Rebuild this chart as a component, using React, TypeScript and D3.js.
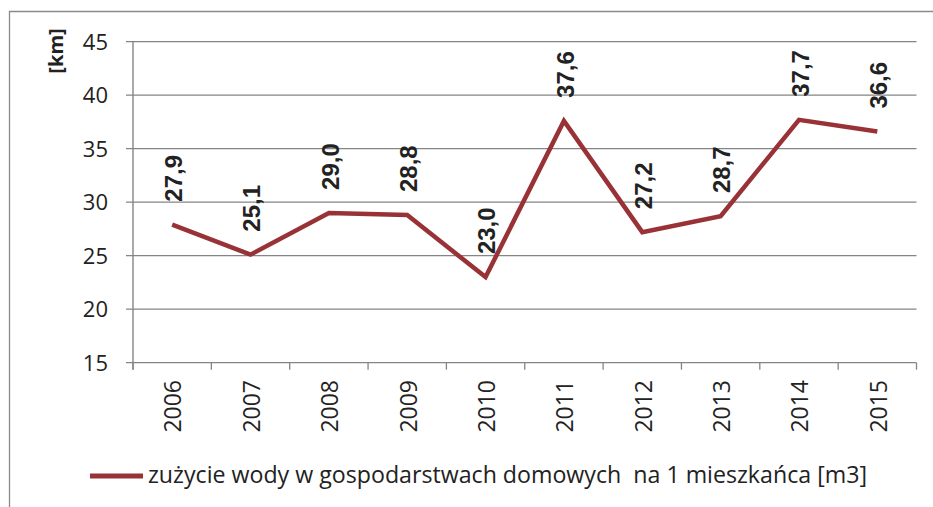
import React from "react";
import * as d3 from "d3";

const years = ["2006", "2007", "2008", "2009", "2010", "2011", "2012", "2013", "2014", "2015"];
const values = [27.9, 25.1, 29.0, 28.8, 23.0, 37.6, 27.2, 28.7, 37.7, 36.6];
const yTicks = [15, 20, 25, 30, 35, 40, 45];
const seriesName = "zużycie wody w gospodarstwach domowych  na 1 mieszkańca [m3]";
const yAxisTitle = "[km]";

const W = 933;
const H = 507;
const plotLeft = 133;
const plotRight = 916.5;
const plotTop = 41.7;
const plotBottom = 362.7;
const lineColor = "#993236";
const gridColor = "#858585";
const font = "'Open Sans', Lato, sans-serif";

export default function App() {
  const x = d3.scaleBand<string>().domain(years).range([plotLeft, plotRight]).padding(0);
  const y = d3.scaleLinear().domain([15, 45]).range([plotBottom, plotTop]);
  const cx = (yr: string) => (x(yr) as number) + x.bandwidth() / 2;
  const line = d3
    .line<number>()
    .x((_, i) => cx(years[i]))
    .y((v) => y(v));
  const fmt = (v: number) => v.toFixed(1).replace(".", ",");
  const boundaries = d3.range(years.length + 1).map((i) => plotLeft + i * x.bandwidth());

  return (
    <svg
      width={W}
      height={H}
      style={{ position: "absolute", left: 0, top: 0, background: "#fff" }}
      xmlns="http://www.w3.org/2000/svg"
    >
      <rect x={0} y={0} width={W} height={H} fill="#fff" />
      {/* chart border */}
      <path d={`M9.5,${H} L9.5,11.5 L${W},11.5`} fill="none" stroke="#8a8a8a" strokeWidth={1.3} />
      {/* gridlines */}
      {yTicks.map((t) => (
        <line key={t} x1={126} x2={plotRight} y1={y(t)} y2={y(t)} stroke={gridColor} strokeWidth={1.3} />
      ))}
      {/* y axis line */}
      <line x1={plotLeft} x2={plotLeft} y1={plotTop} y2={plotBottom + 7} stroke={gridColor} strokeWidth={1.4} />
      {/* x ticks */}
      {boundaries.map((b, i) => (
        <line key={i} x1={b} x2={b} y1={plotBottom} y2={plotBottom + 7} stroke={gridColor} strokeWidth={1.3} />
      ))}
      {/* y tick labels */}
      {yTicks.map((t) => (
        <text
          key={t}
          x={108}
          y={y(t)}
          dy="0.36em"
          textAnchor="end"
          fontFamily={font}
          fontSize={22}
          fill="#222"
        >
          {t}
        </text>
      ))}
      {/* y axis title */}
      <text
        transform={`translate(56,51) rotate(-90)`}
        textAnchor="middle"
        dy="0.36em"
        fontFamily={font}
        fontWeight="bold"
        fontSize={20}
        fill="#222"
      >
        {yAxisTitle}
      </text>
      {/* x labels */}
      {years.map((yr) => (
        <text
          key={yr}
          transform={`translate(${cx(yr) + 1},380) rotate(-90)`}
          textAnchor="end"
          dy="0.36em"
          fontFamily={font}
          fontSize={23}
          fill="#222"
        >
          {yr}
        </text>
      ))}
      {/* series line */}
      <path d={line(values) || ""} fill="none" stroke={lineColor} strokeWidth={4.5} strokeLinejoin="miter" />
      {/* data labels */}
      {values.map((v, i) => (
        <text
          key={i}
          transform={`translate(${cx(years[i]) + 1},${y(v) - 23}) rotate(-90)`}
          textAnchor="start"
          dy="0.36em"
          fontFamily="'Liberation Sans', Arial, sans-serif"
          fontWeight="bold"
          fontSize={24}
          fill="#222"
        >
          {fmt(v)}
        </text>
      ))}
      {/* legend */}
      <line x1={90} x2={143} y1={476} y2={476} stroke={lineColor} strokeWidth={5} />
      <text
        x={148}
        y={483}
        fontFamily={font}
        fontSize={23}
        fill="#222"
        textLength={719}
        lengthAdjust="spacingAndGlyphs"
        style={{ whiteSpace: "pre" }}
      >
        {seriesName}
      </text>
    </svg>
  );
}
